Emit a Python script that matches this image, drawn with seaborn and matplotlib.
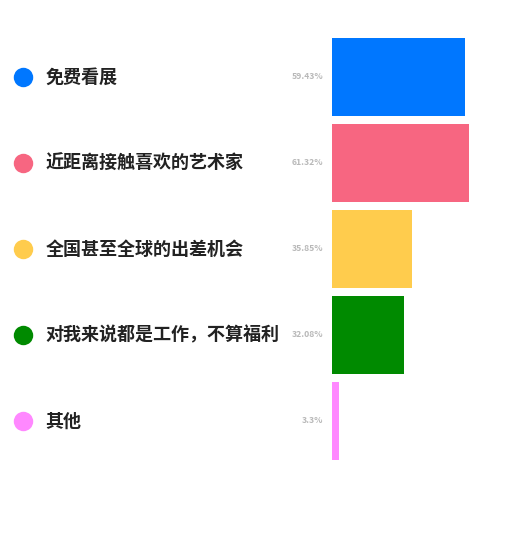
import matplotlib
matplotlib.use("Agg")
import matplotlib.pyplot as plt
import matplotlib.transforms as mtransforms
import pandas as pd
import seaborn as sns

# data
categories = ["免费看展", "近距离接触喜欢的艺术家", "全国甚至全球的出差机会",
              "对我来说都是工作，不算福利", "其他"]
values = [59.43, 61.32, 35.85, 32.08, 3.3]
value_labels = ["59.43%", "61.32%", "35.85%", "32.08%", "3.3%"]
colors = ["#0077FF", "#F76681", "#FFCC4D", "#008A00", "#FF88FF"]

sns.set_theme(style="white")
plt.rcParams["font.family"] = ["Noto Sans CJK SC", "DejaVu Sans"]

df = pd.DataFrame({"cat": categories, "val": values})

W, H = 525, 540
fig = plt.figure(figsize=(W / 100, H / 100), dpi=100)
px_per_unit = 133 / 59.43
ax = fig.add_axes([332 / W, (H - 463.5) / H, (W - 332) / W, 430 / H])

sns.barplot(data=df, x="val", y="cat", hue="cat", palette=colors,
            width=78 / 86, legend=False, ax=ax, saturation=1,
            edgecolor="none", linewidth=0)

ax.set_xlim(0, (W - 332) / px_per_unit)
ax.set_ylim(4.5, -0.5)
ax.axis("off")

trans = mtransforms.blended_transform_factory(fig.transFigure, ax.transData)
for i, (cat, lab, c) in enumerate(zip(categories, value_labels, colors)):
    ax.plot([22.5 / W], [i + 0.01], marker="o", markersize=14, color=c,
            transform=trans, clip_on=False, markeredgewidth=0)
    ax.text(45.5 / W, i + 0.01, cat, transform=trans, ha="left", va="center",
            fontsize=13, fontweight="bold", color="#222222")
    ax.text(323 / W, i, lab, transform=trans, ha="right", va="center",
            fontsize=6.2, fontweight="bold", color="#B8B8B8")

fig.savefig("out.png", dpi=100)
